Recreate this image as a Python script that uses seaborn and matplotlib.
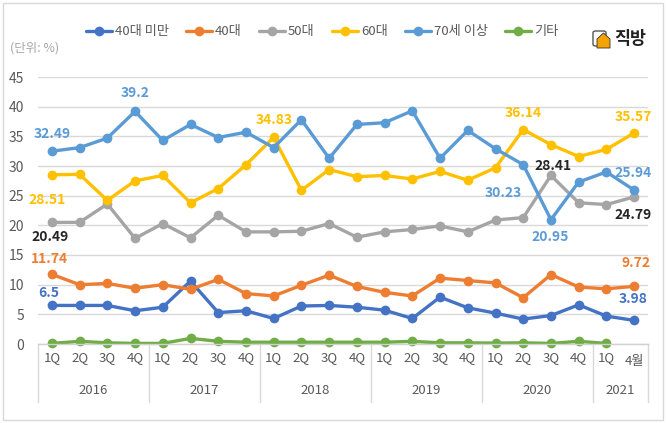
import numpy as np
import pandas as pd
import matplotlib
matplotlib.use("Agg")
import matplotlib.pyplot as plt
import matplotlib.transforms as mtransforms
from matplotlib.patches import Rectangle, Polygon, FancyBboxPatch
import seaborn as sns

# ---------------- data ----------------
quarters = ["1Q", "2Q", "3Q", "4Q"] * 5 + ["1Q", "4월"]
years = ["2016", "2017", "2018", "2019", "2020", "2021"]
year_spans = [(0, 3), (4, 7), (8, 11), (12, 15), (16, 19), (20, 21)]

under40 = [6.5, 6.5, 6.5, 5.6, 6.2, 10.6, 5.3, 5.6, 4.3, 6.4, 6.5,
           6.2, 5.7, 4.3, 7.9, 6.1, 5.2, 4.2, 4.8, 6.6, 4.7, 3.98]
age40 = [11.74, 10.0, 10.2, 9.4, 10.0, 9.2, 10.9, 8.5, 8.1, 9.9, 11.6,
         9.7, 8.7, 8.1, 11.1, 10.7, 10.3, 7.8, 11.7, 9.6, 9.3, 9.72]
age50 = [20.49, 20.5, 23.6, 17.8, 20.3, 17.9, 21.7, 18.9, 18.9, 19.0, 20.3,
         18.0, 18.9, 19.3, 19.9, 18.9, 20.9, 21.3, 28.41, 23.8, 23.5, 24.79]
age60 = [28.51, 28.6, 24.2, 27.5, 28.4, 23.8, 26.2, 30.2, 34.83, 25.9, 29.4,
         28.2, 28.4, 27.8, 29.1, 27.6, 29.7, 36.14, 33.6, 31.6, 32.8, 35.57]
age70 = [32.49, 33.1, 34.7, 39.2, 34.3, 37.0, 34.8, 35.7, 33.1, 37.8, 31.3,
         37.0, 37.3, 39.3, 31.3, 36.0, 32.9, 30.23, 20.95, 27.3, 29.0, 25.94]
others = [0.1, 0.45, 0.2, 0.1, 0.1, 0.95, 0.45, 0.3, 0.3, 0.3, 0.3,
          0.3, 0.3, 0.45, 0.2, 0.2, 0.15, 0.2, 0.1, 0.45, 0.1]

series_names = ["40대 미만", "40대", "50대", "60대", "70세 이상", "기타"]
series_vals = [under40, age40, age50, age60, age70, others]
colors = ["#4472C4", "#ED7D31", "#A5A5A5", "#FFC000", "#5B9BD5", "#70AD47"]

# labels: (series index, point index, colour, dx px, dy px)
labels = [
    (4, 0, "#5B9BD5", 0, 17), (4, 3, "#5B9BD5", 0, 18), (3, 8, "#FFC000", 0, 17),
    (3, 0, "#FFC000", -5, -25), (2, 0, "#262626", -2, -15), (1, 0, "#ED7D31", -2, 15),
    (0, 0, "#4472C4", -3, 12), (3, 17, "#FFC000", 0, 17), (3, 21, "#FFC000", -1, 16),
    (2, 18, "#262626", 2, 9), (4, 17, "#5B9BD5", -20, -28), (4, 21, "#5B9BD5", -1, 17),
    (2, 21, "#262626", -1, -18), (4, 18, "#5B9BD5", -1, -17), (1, 21, "#ED7D31", 2, 23),
    (0, 21, "#4472C4", -1, 21),
]

rows = []
for name, vals in zip(series_names, series_vals):
    for i, v in enumerate(vals):
        rows.append({"idx": i, "value": v, "series": name})
df = pd.DataFrame(rows)

# ---------------- style ----------------
sns.set_theme(style="white")
plt.rcParams["font.family"] = ["Noto Sans CJK KR", "DejaVu Sans"]
plt.rcParams["axes.unicode_minus"] = False

W, H = 666, 423
fig = plt.figure(figsize=(W / 100, H / 100), dpi=100)
ax = fig.add_axes([38 / W, 1 - 344 / H, 610 / W, 267 / H])

sns.lineplot(data=df, x="idx", y="value", hue="series", hue_order=series_names,
             palette=colors, marker="o", markersize=7, markeredgewidth=0,
             linewidth=2.4, ax=ax, clip_on=False, legend=True)

ax.set_xlim(-0.5, 21.5)
ax.set_ylim(0, 45)
ax.set_yticks(range(0, 46, 5))
ax.yaxis.grid(True, color="#D9D9D9", linewidth=1)
ax.set_axisbelow(True)
for s in ["top", "right", "left"]:
    ax.spines[s].set_visible(False)
ax.spines["bottom"].set_color("#D0D0D0")
ax.spines["bottom"].set_linewidth(1)
ax.set_xlabel("")
ax.set_ylabel("")
ax.set_xticks(range(len(quarters)))
ax.set_xticklabels(quarters)
ax.tick_params(axis="x", length=0, pad=5, labelsize=9.5, labelcolor="#595959")
ax.tick_params(axis="y", length=0, pad=10, labelsize=10, labelcolor="#595959")
ax.get_xticklabels()[-1].set_y(-0.015)

# year separators & labels
trans = mtransforms.blended_transform_factory(ax.transData, ax.transAxes)
seps = [-0.5, 3.5, 7.5, 11.5, 15.5, 19.5, 21.5]
for sx in seps:
    ax.plot([sx, sx], [0, -0.217], transform=trans, color="#D9D9D9",
            lw=1, clip_on=False)
for yr, (a, b) in zip(years, year_spans):
    ax.text((a + b) / 2, -0.176, yr, transform=trans, ha="center", va="center",
            fontsize=9.5, color="#595959")

# data labels
for si, pi, col, dx, dy in labels:
    v = series_vals[si][pi]
    ax.annotate(f"{v:g}", xy=(pi, v), xytext=(dx, dy), textcoords="offset pixels",
                ha="center", va="center", fontsize=10, fontweight="bold", color=col,
                annotation_clip=False)

# legend
handles, lbls = ax.get_legend_handles_labels()
ax.get_legend().remove()
fig.legend(handles, lbls, loc="center", bbox_to_anchor=(322 / W, 1 - 32 / H),
           ncol=6, frameon=False, fontsize=9.5, handlelength=2.0,
           handletextpad=0.2, columnspacing=1.3, labelcolor="#595959")

# unit text
fig.text(10 / W, 1 - 48 / H, "(단위: %)", ha="left", va="center",
         fontsize=9, color="#A6A6A6")

# logo
doc = FancyBboxPatch((593 / W, 1 - 46 / H), 13 / W, 15 / H,
                     boxstyle="round,pad=0,rounding_size=0.004",
                     transform=fig.transFigure, fc="white", ec="#555555", lw=1)
fig.patches.append(doc)
house = Polygon([[597 / W, 1 - 48 / H], [597 / W, 1 - 39 / H], [603.5 / W, 1 - 33 / H],
                 [610 / W, 1 - 39 / H], [610 / W, 1 - 48 / H]],
                closed=True, transform=fig.transFigure, fc="#F5A300", ec="#333333", lw=0.6)
fig.patches.append(house)
fig.text(614 / W, 1 - 39 / H, "직방", ha="left", va="center", fontsize=12.5,
         fontweight="bold", color="#222222")

# outer border
fig.patches.append(Rectangle((3 / W, 3 / H), 660 / W, 417 / H, transform=fig.transFigure,
                             fill=False, ec="#D9D9D9", lw=1))

fig.savefig("out.png", dpi=100)
